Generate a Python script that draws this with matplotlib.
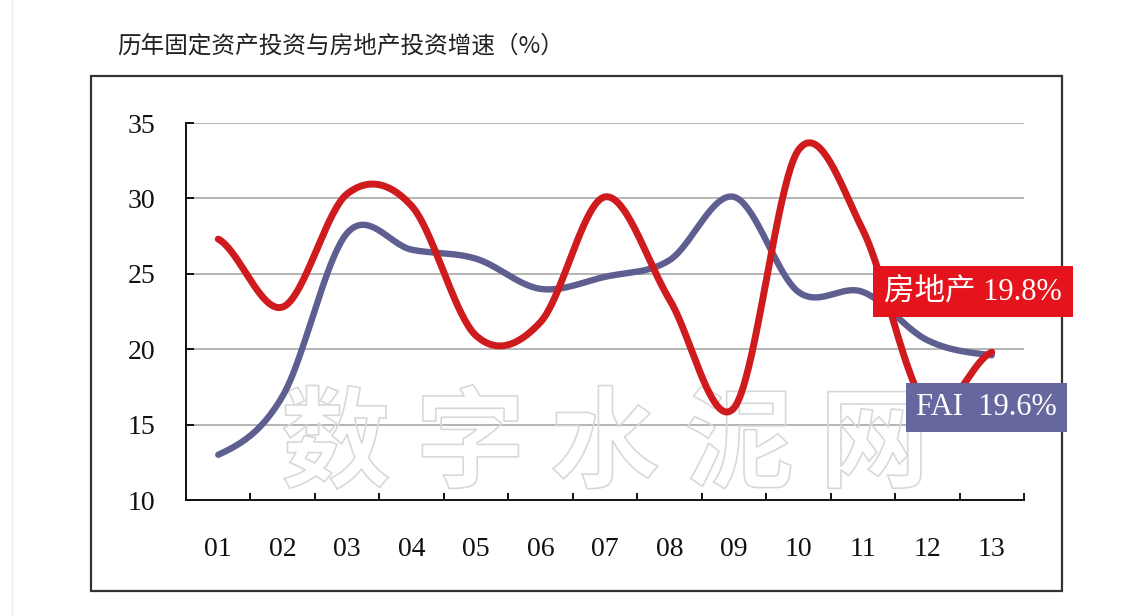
import numpy as np
import matplotlib
matplotlib.use("Agg")
import matplotlib.pyplot as plt
import matplotlib.patheffects as pe
from matplotlib.patches import Rectangle
from matplotlib.lines import Line2D

# Data: annual growth of fixed-asset investment and real-estate investment (%)
years = ["01", "02", "03", "04", "05", "06", "07", "08", "09", "10", "11", "12", "13"]
real_estate = [27.3, 22.8, 30.3, 29.5, 20.9, 21.8, 30.1, 23.3, 16.1, 33.2, 27.9, 16.2, 19.8]
fai = [13.0, 16.9, 27.7, 26.6, 26.0, 24.0, 24.8, 25.9, 30.1, 23.8, 23.8, 20.6, 19.6]
y_ticks = [10, 15, 20, 25, 30, 35]

title = "历年固定资产投资与房地产投资增速（%）"
label_re = "房地产 19.8%"
label_fai = "FAI  19.6%"
watermark = "数 字 水 泥 网"

RED_LINE = "#cf1a1e"
RED_BOX = "#e5141c"
BLUE_LINE = "#5e5e90"
BLUE_BOX = "#6767a0"


def smooth(values, n=40):
    """Cubic Hermite (Catmull-Rom style) smoothing through every point."""
    p = np.asarray(values, dtype=float)
    k = len(p)
    m = np.zeros(k)
    m[1:-1] = (p[2:] - p[:-2]) / 2.0
    m[0] = (p[1] - p[0]) * 0.5
    m[-1] = (p[-1] - p[-2]) * 0.5
    xs, ys = [], []
    for i in range(k - 1):
        t = np.linspace(0, 1, n, endpoint=(i == k - 2))
        h00 = 2 * t**3 - 3 * t**2 + 1
        h10 = t**3 - 2 * t**2 + t
        h01 = -2 * t**3 + 3 * t**2
        h11 = t**3 - t**2
        ys.append(h00 * p[i] + h10 * m[i] + h01 * p[i + 1] + h11 * m[i + 1])
        xs.append(i + t)
    return np.concatenate(xs), np.concatenate(ys)


W, H = 1137, 616
fig = plt.figure(figsize=(W / 100, H / 100), dpi=100)
fig.patch.set_facecolor("white")

ax = fig.add_axes([186 / W, 1 - 500 / H, (1024 - 186) / W, (500 - 123) / H])
ax.set_xlim(-0.5, len(years) - 0.5)
ax.set_ylim(y_ticks[0], y_ticks[-1])

# gridlines
for v in y_ticks[1:]:
    ax.axhline(v, color="#b4b4b4", lw=1.4, zorder=1)

# watermark (hollow outlined characters)
ax.text(0.5, 0.14, watermark, transform=ax.transAxes, ha="center", va="center",
        fontsize=79, fontweight="bold", family=["Noto Sans CJK SC"],
        color="none", zorder=1.5,
        path_effects=[pe.Stroke(linewidth=1.2, foreground="#d8d8d8")])

x = np.arange(len(years))
bx, by = smooth(fai)
ax.plot(bx, by, color=BLUE_LINE, lw=4.6, solid_capstyle="round", zorder=3)
rx, ry = smooth(real_estate)
ax.plot(rx, ry, color=RED_LINE, lw=5.0, solid_capstyle="round", zorder=4)

# axes styling
for s in ["top", "right"]:
    ax.spines[s].set_visible(False)
for s in ["left", "bottom"]:
    ax.spines[s].set_color("#111111")
    ax.spines[s].set_linewidth(1.4)

ax.set_yticks(y_ticks)
ax.set_yticklabels([str(v) for v in y_ticks])
ax.tick_params(axis="y", direction="in", length=6, width=1.4, pad=22,
               labelsize=20, colors="#111111")
ax.set_xticks(x)
ax.set_xticklabels(years)
ax.set_xticks(np.arange(-0.5, len(years)), minor=True)
ax.tick_params(axis="x", which="major", length=0, pad=27, labelsize=20,
               colors="#111111")
ax.tick_params(axis="x", which="minor", direction="in", length=5, width=1.4,
               colors="#111111")
for lab in ax.get_xticklabels() + ax.get_yticklabels():
    lab.set_family("Liberation Serif")

# end-value labels
ax.text(11.71, 23.83, label_re, ha="center", va="center", fontsize=22,
        family=["Liberation Serif", "Noto Sans CJK SC"], color="white",
        zorder=6, clip_on=False,
        bbox=dict(boxstyle="square,pad=0.36", fc=RED_BOX, ec="none"))
ax.text(11.92, 16.13, label_fai, ha="center", va="center", fontsize=22,
        family=["Liberation Serif", "Noto Sans CJK SC"], color="white",
        zorder=6, clip_on=False,
        bbox=dict(boxstyle="square,pad=0.32", fc=BLUE_BOX, ec="none"))

# outer frame and title
fig.add_artist(Rectangle((91 / W, 1 - 591 / H), (1062 - 91) / W, (591 - 76) / H,
                         transform=fig.transFigure, fill=False,
                         ec="#333333", lw=1.6, zorder=0))
fig.add_artist(Line2D([12 / W, 12 / W], [0, 1], transform=fig.transFigure,
                      color="#ededed", lw=1.0))
fig.text(117 / W, 1 - 46 / H, title, ha="left", va="center", fontsize=17,
         family=["Noto Sans CJK SC"], color="#222222")

fig.savefig("out.png", dpi=100, facecolor="white")
